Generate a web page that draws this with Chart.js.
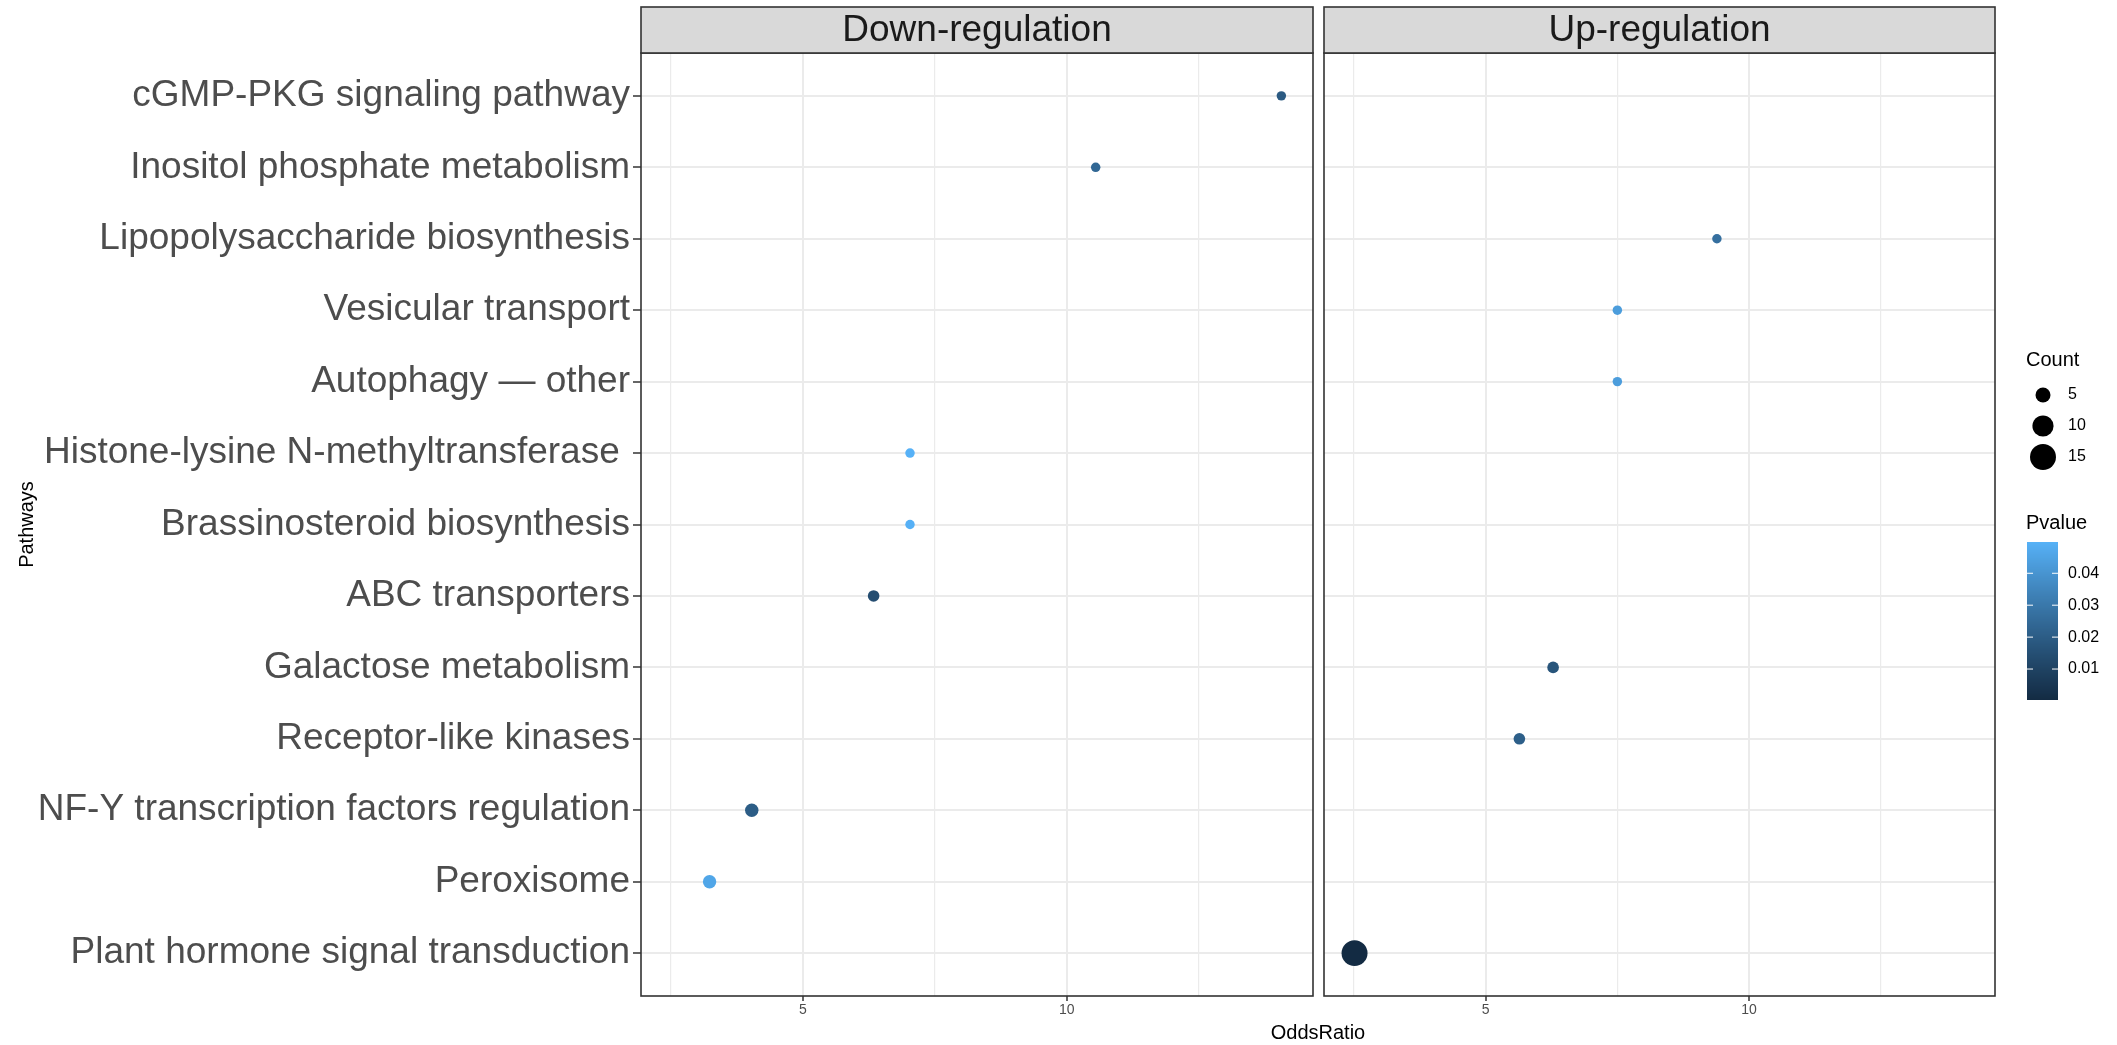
<!DOCTYPE html>
<html><head><meta charset="utf-8">
<script src="https://cdn.jsdelivr.net/npm/chart.js@4/dist/chart.umd.min.js"></script>
<style>
html,body{margin:0;padding:0;background:#fff;overflow:hidden;}
#wrap{position:relative;width:2117px;height:1045px;background:#fff;}
canvas{position:absolute;left:0;top:0;}
</style></head><body>
<div id="wrap"><canvas id="cDown" width="2117" height="1045"></canvas><canvas id="cUp" width="2117" height="1045"></canvas></div>
<script>
// ---------------- DATA ----------------
const pathways = [
  "cGMP-PKG signaling pathway",
  "Inositol phosphate metabolism",
  "Lipopolysaccharide biosynthesis",
  "Vesicular transport",
  "Autophagy \u2014 other",
  "Histone-lysine N-methyltransferase ",
  "Brassinosteroid biosynthesis",
  "ABC transporters",
  "Galactose metabolism",
  "Receptor-like kinases",
  "NF-Y transcription factors regulation",
  "Peroxisome",
  "Plant hormone signal transduction"
];
const panelLabels = ["Down-regulation", "Up-regulation"];

const downPathways = ["cGMP-PKG signaling pathway","Inositol phosphate metabolism","Histone-lysine N-methyltransferase ","Brassinosteroid biosynthesis","ABC transporters","NF-Y transcription factors regulation","Peroxisome"];
const downOdds   = [14.07, 10.55, 7.03, 7.03, 6.34, 4.03, 3.23];
const downCount  = [2, 2, 2, 2, 3, 4, 4];
const downPvalue = [0.019, 0.024, 0.0498, 0.0495, 0.014, 0.020, 0.046];

const upPathways = ["Lipopolysaccharide biosynthesis","Vesicular transport","Autophagy \u2014 other","Galactose metabolism","Receptor-like kinases","Plant hormone signal transduction"];
const upOdds   = [9.39, 7.5, 7.5, 6.28, 5.64, 2.51];
const upCount  = [2, 2, 2, 3, 3, 15];
const upPvalue = [0.027, 0.043, 0.043, 0.017, 0.021, 0.0003];

const xTickValues = [2.5, 5, 7.5, 10, 12.5];
const xMajorTicks = [5, 10];
const countBreaks = [5, 10, 15];
const pvalueBreaks = [0.01, 0.02, 0.03, 0.04];
const xTitle = "OddsRatio";
const yTitle = "Pathways";

// ---------------- HELPERS ----------------
const FONT = '"Liberation Sans", Arial, Helvetica, sans-serif';
const rowOf = name => pathways.length - pathways.indexOf(name);
const radiusFor = c => 3.35 * Math.sqrt(c);

const allP = downPvalue.concat(upPvalue);
const pMin = Math.min(...allP), pMax = Math.max(...allP);

function hexToRgb(h){return [1,3,5].map(i=>parseInt(h.substr(i,2),16));}
function toLin(c){c/=255;return c<=0.04045?c/12.92:Math.pow((c+0.055)/1.055,2.4);}
function fromLin(c){const v=c<=0.0031308?12.92*c:1.055*Math.pow(c,1/2.4)-0.055;return Math.round(Math.max(0,Math.min(1,v))*255);}
const WP=[0.95047,1,1.08883];
function rgbToLab(rgb){const [r,g,b]=rgb.map(toLin);
  const X=(0.4124564*r+0.3575761*g+0.1804375*b)/WP[0];
  const Y=(0.2126729*r+0.7151522*g+0.0721750*b)/WP[1];
  const Z=(0.0193339*r+0.1191920*g+0.9503041*b)/WP[2];
  const f=t=>t>216/24389?Math.cbrt(t):(24389/27*t+16)/116;
  const fx=f(X),fy=f(Y),fz=f(Z);return [116*fy-16,500*(fx-fy),200*(fy-fz)];}
function labToRgb([L,a,b]){const fy=(L+16)/116,fx=fy+a/500,fz=fy-b/200;
  const fi=t=>{const t3=t*t*t;return t3>216/24389?t3:(116*t-16)/(24389/27);};
  const X=fi(fx)*WP[0],Y=fi(fy)*WP[1],Z=fi(fz)*WP[2];
  const r=3.2404542*X-1.5371385*Y-0.4985314*Z;
  const g=-0.9692660*X+1.8760108*Y+0.0415560*Z;
  const bb=0.0556434*X-0.2040259*Y+1.0572252*Z;
  return [fromLin(r),fromLin(g),fromLin(bb)];}
const LAB_LOW = rgbToLab(hexToRgb('#132B43')), LAB_HIGH = rgbToLab(hexToRgb('#56B1F7'));
function colorAt(t){t=Math.max(0,Math.min(1,t));
  const lab=LAB_LOW.map((v,i)=>v+(LAB_HIGH[i]-v)*t);const [r,g,b]=labToRgb(lab);return `rgb(${r},${g},${b})`;}
const pColor = p => colorAt((p - pMin) / (pMax - pMin));

// ---------------- PLUGINS ----------------
const STRIP_TOP = 7;
const panelPlugin = {
  id: 'panel',
  afterDatasetsDraw(chart, args, opts) {
    const {ctx, chartArea: a} = chart;
    ctx.save();
    ctx.lineWidth = 1.6; ctx.strokeStyle = '#333333';
    ctx.strokeRect(a.left, a.top, a.right - a.left, a.bottom - a.top);
    ctx.fillStyle = '#d9d9d9';
    ctx.fillRect(a.left, STRIP_TOP, a.right - a.left, a.top - STRIP_TOP);
    ctx.strokeRect(a.left, STRIP_TOP, a.right - a.left, a.top - STRIP_TOP);
    ctx.fillStyle = '#1a1a1a';
    ctx.font = '37px ' + FONT; ctx.textAlign = 'center'; ctx.textBaseline = 'middle';
    ctx.fillText(opts.label, (a.left + a.right) / 2, (STRIP_TOP + a.top) / 2 + 1);
    ctx.restore();
  }
};

const legendPlugin = {
  id: 'facetLegend',
  afterDraw(chart) {
    const ctx = chart.ctx;
    ctx.save();
    // x axis title, centred under both panels
    ctx.fillStyle = '#000'; ctx.font = '20px ' + FONT;
    ctx.textAlign = 'center'; ctx.textBaseline = 'middle';
    ctx.fillText(xTitle, 1318, 1033);
    // Count legend
    ctx.textAlign = 'left';
    ctx.fillText('Count', 2026, 360);
    ctx.font = '16px ' + FONT;
    const cy = [395, 426, 457];
    countBreaks.forEach((c, i) => {
      ctx.beginPath(); ctx.fillStyle = '#000';
      ctx.arc(2043, cy[i], radiusFor(c), 0, Math.PI * 2); ctx.fill();
      ctx.fillText(String(c), 2068, cy[i]);
    });
    // Pvalue colorbar
    ctx.font = '20px ' + FONT;
    ctx.fillText('Pvalue', 2026, 523);
    const bx0 = 2027, bx1 = 2058, by0 = 542, by1 = 700;
    for (let y = by0; y < by1; y++) {
      const t = (by1 - (y + 0.5)) / (by1 - by0);
      ctx.fillStyle = colorAt(t);
      ctx.fillRect(bx0, y, bx1 - bx0, 1);
    }
    ctx.font = '16px ' + FONT; ctx.fillStyle = '#000';
    pvalueBreaks.forEach(v => {
      const y = by1 - (v - pMin) / (pMax - pMin) * (by1 - by0);
      ctx.strokeStyle = '#ffffff'; ctx.lineWidth = 1;
      ctx.beginPath(); ctx.moveTo(bx0, y); ctx.lineTo(bx0 + 6, y);
      ctx.moveTo(bx1 - 6, y); ctx.lineTo(bx1, y); ctx.stroke();
      ctx.fillText(v.toFixed(2), 2068, y);
    });
    ctx.restore();
  }
};

// ---------------- CHARTS ----------------
function makeXScale() {
  return {
    type: 'linear', min: 1.93, max: 14.67,
    afterFit: s => { s.height = 49; },
    afterBuildTicks: s => { s.ticks = xTickValues.map(v => ({value: v})); },
    ticks: {
      autoSkip: false, maxRotation: 0, padding: 1,
      font: {family: FONT, size: 14}, color: '#4d4d4d',
      callback: v => xMajorTicks.includes(v) ? String(v) : ''
    },
    grid: {
      color: '#ebebeb',
      lineWidth: c => (c.tick && xMajorTicks.includes(c.tick.value)) ? 2 : 1.2,
      drawTicks: true, tickLength: 5, tickWidth: 1.5,
      tickColor: c => (c.tick && xMajorTicks.includes(c.tick.value)) ? '#333333' : 'rgba(0,0,0,0)'
    },
    border: {display: false}
  };
}
function makeDataset(names, odds, counts, pvals) {
  return {
    data: odds.map((x, i) => ({x: x, y: rowOf(names[i])})),
    pointRadius: c => radiusFor(counts[c.dataIndex]),
    pointHoverRadius: c => radiusFor(counts[c.dataIndex]),
    pointBackgroundColor: c => pColor(pvals[c.dataIndex]),
    pointBorderWidth: 0,
    pointBorderColor: 'rgba(0,0,0,0)'
  };
}
const commonY = {
  type: 'linear', min: 0.4, max: 13.6,
  afterBuildTicks: s => { s.ticks = pathways.map((_, i) => ({value: pathways.length - i})); },
  border: {display: false}
};

new Chart(document.getElementById('cDown'), {
  type: 'scatter',
  data: {datasets: [makeDataset(downPathways, downOdds, downCount, downPvalue)]},
  options: {
    responsive: false, devicePixelRatio: 1, animation: false,
    layout: {autoPadding: false, padding: {left: 0, top: 53, right: 2117 - 1313, bottom: 0}},
    plugins: {legend: {display: false}, tooltip: {enabled: false}, panel: {label: panelLabels[0]}},
    scales: {
      x: makeXScale(),
      y: Object.assign({}, commonY, {
        afterFit: s => { s.width = 641; },
        title: {display: true, text: yTitle, color: '#000', font: {family: FONT, size: 20}, padding: {top: 15, bottom: 0}},
        ticks: {autoSkip: false, padding: 3, font: {family: FONT, size: 37}, color: '#4d4d4d',
          callback: v => pathways[pathways.length - v]},
        grid: {color: '#ebebeb', lineWidth: 2, drawTicks: true, tickLength: 8, tickColor: '#333333', tickWidth: 1.5}
      })
    }
  },
  plugins: [panelPlugin]
});

new Chart(document.getElementById('cUp'), {
  type: 'scatter',
  data: {datasets: [makeDataset(upPathways, upOdds, upCount, upPvalue)]},
  options: {
    responsive: false, devicePixelRatio: 1, animation: false,
    layout: {autoPadding: false, padding: {left: 0, top: 53, right: 2117 - 1995, bottom: 0}},
    plugins: {legend: {display: false}, tooltip: {enabled: false}, panel: {label: panelLabels[1]}},
    scales: {
      x: makeXScale(),
      y: Object.assign({}, commonY, {
        afterFit: s => { s.width = 1324; },
        ticks: {display: false},
        grid: {color: '#ebebeb', lineWidth: 2, drawTicks: false}
      })
    }
  },
  plugins: [panelPlugin, legendPlugin]
});
</script>
</body></html>
